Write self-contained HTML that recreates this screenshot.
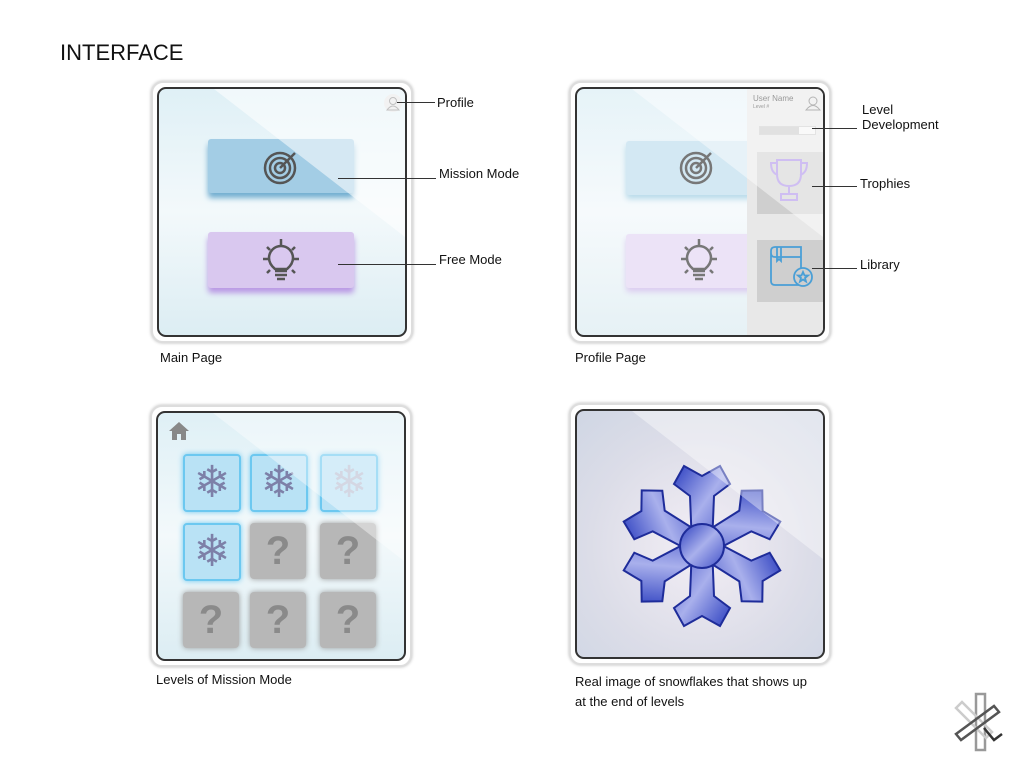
<!DOCTYPE html>
<html><head><meta charset="utf-8"><style>
body{margin:0;width:1024px;height:768px;background:#fff;font-family:"Liberation Sans",sans-serif;position:relative;overflow:hidden}
.a{position:absolute}
.t{position:absolute;font-size:13px;color:#111}
.frame{position:absolute;border:2px solid #ddd;border-radius:12px;background:#fff;box-shadow:0 0 3px #bbb}
.scr{position:absolute;left:4px;top:4px;right:4px;bottom:4px;border:2px solid #333;border-radius:9px;background:linear-gradient(180deg,#dff0f6,#f3f9fb 50%,#dcedf3);overflow:hidden}
.glare{position:absolute;left:0;top:0;width:100%;height:100%;background:rgba(255,255,255,.55);clip-path:polygon(55px 0,100% 0,100% 148px)}
.line{position:absolute;height:1px;background:#333}
.cell{position:absolute;width:56px;height:56px;border-radius:4px}
.q{background:#b7b7b7;box-shadow:0 0 6px #999;color:#8a8a8a;font-size:40px;font-weight:bold;text-align:center;line-height:56px}
.s{background:#b9e2f5;border:2px solid #6cc8f0;box-shadow:0 0 6px #6cc8f0;width:54px;height:54px;color:#7d80a8;font-size:44px;text-align:center;line-height:54px}
</style></head><body>
<div class="t" style="left:60px;top:40px;font-size:22px;">INTERFACE</div>

<!-- Main page -->
<div class="frame" style="left:151px;top:81px;width:258px;height:258px">
<div class="scr">
<div class="a" style="left:49px;top:50px;width:146px;height:54px;background:#a3cde5;border-radius:3px;box-shadow:0 5px 6px #72aed0"></div>
<div class="a" style="left:49px;top:143px;width:146px;height:56px;background:#d9c8ef;border-radius:3px;box-shadow:0 5px 6px #b998e4"></div>
<svg class="a" style="left:104px;top:60px" width="36" height="36"><g fill="none" stroke="#555" stroke-width="2.5"><circle cx="17" cy="19" r="15"/><circle cx="17" cy="19" r="10"/><circle cx="17" cy="19" r="5"/><path d="M17 19L32 4"/></g></svg>
<svg class="a" style="left:100px;top:150px" width="44" height="44"><g fill="none" stroke="#555" stroke-width="2.5"><path d="M16 30q-6-5-6-11a12 12 0 0 1 24 0q0 6-6 11z"/><path d="M16 32h12M16 36h12M18 40h8M22 0v6M4 20h5M35 20h5M8 8l3 3M36 8l-3 3M8 34l3-3M36 34l-3-3"/></g></svg>
<svg class="a" style="left:225px;top:5px" width="18" height="18"><circle cx="9" cy="9" r="9" fill="#e3e3e3"/><g fill="none" stroke="#777"><circle cx="9" cy="7" r="3.5"/><path d="M3 16q6-8 12 0z"/></g></svg>
<div class="glare"></div>
</div></div>
<div class="line" style="left:397px;top:102px;width:38px"></div><div class="t" style="left:437px;top:95px">Profile</div>
<div class="line" style="left:338px;top:178px;width:98px"></div><div class="t" style="left:439px;top:166px">Mission Mode</div>
<div class="line" style="left:338px;top:264px;width:98px"></div><div class="t" style="left:439px;top:252px">Free Mode</div>
<div class="t" style="left:160px;top:350px">Main Page</div>

<!-- Profile page -->
<div class="frame" style="left:569px;top:81px;width:258px;height:258px">
<div class="scr" style="background:linear-gradient(180deg,#e6f3f8,#f6fafc 50%,#e6f1f5)">
<div class="a" style="left:49px;top:52px;width:146px;height:54px;background:#d3e8f3;border-radius:3px;box-shadow:0 4px 6px #b9dbea"></div>
<div class="a" style="left:49px;top:145px;width:146px;height:54px;background:#ece3f7;border-radius:3px;box-shadow:0 4px 6px #dccdf0"></div>
<svg class="a" style="left:102px;top:60px" width="36" height="36"><g fill="none" stroke="#777" stroke-width="2.5"><circle cx="17" cy="19" r="15"/><circle cx="17" cy="19" r="10"/><circle cx="17" cy="19" r="5"/><path d="M17 19L32 4"/></g></svg>
<svg class="a" style="left:100px;top:150px" width="44" height="44"><g fill="none" stroke="#777" stroke-width="2.5"><path d="M16 30q-6-5-6-11a12 12 0 0 1 24 0q0 6-6 11z"/><path d="M16 32h12M16 36h12M18 40h8M22 0v6M4 20h5M35 20h5M8 8l3 3M36 8l-3 3M8 34l3-3M36 34l-3-3"/></g></svg>
<div class="a" style="left:170px;top:0;width:90px;height:260px;background:#e8e8e8"></div>
<div class="a" style="left:176px;top:5px;font-size:8px;color:#444">User Name</div>
<div class="a" style="left:176px;top:15px;font-size:5px;color:#444">Level #</div>
<svg class="a" style="left:228px;top:6px" width="16" height="16"><g fill="none" stroke="#777"><circle cx="8" cy="6" r="4"/><path d="M1 15q7-9 14 0z"/></g></svg>
<div class="a" style="left:182px;top:37px;width:55px;height:7px;background:#f4f4f4;border:1px solid #ccc"></div>
<div class="a" style="left:183px;top:38px;width:39px;height:7px;background:#c8c8c8"></div>
<div class="a" style="left:180px;top:63px;width:66px;height:62px;background:#cfcfcf"></div>
<svg class="a" style="left:190px;top:68px" width="46" height="50"><g fill="none" stroke="#a889e8" stroke-width="2"><path d="M10 3h24v14q0 12-12 12q-12 0-12-12z M10 6h-6q0 10 7 12 M34 6h6q0 10-7 12 M22 29v8 M14 37h16v6h-16z"/></g></svg>
<div class="a" style="left:180px;top:151px;width:66px;height:62px;background:#cfcfcf"></div>
<svg class="a" style="left:190px;top:156px" width="50" height="52"><g fill="none" stroke="#4a9fd6" stroke-width="1.8"><path d="M4 6q0-4 4-4h26v38h-26q-4 0-4-4z M4 8q0 4 4 4h26 M10 2v14l2-2 2 2v-14"/><circle cx="36" cy="32" r="9" fill="#cfcfcf"/><path d="M36 27l1.5 3.5h3.5l-3 2.5 1 3.5-3-2-3 2 1-3.5-3-2.5h3.5z"/></g></svg>
<div class="glare" style="background:rgba(255,255,255,.45)"></div>
</div></div>
<div class="line" style="left:812px;top:128px;width:45px"></div><div class="t" style="left:862px;top:102px">Level<br>Development</div>
<div class="line" style="left:812px;top:186px;width:45px"></div><div class="t" style="left:860px;top:176px">Trophies</div>
<div class="line" style="left:812px;top:268px;width:45px"></div><div class="t" style="left:860px;top:257px">Library</div>
<div class="t" style="left:575px;top:350px">Profile Page</div>

<!-- Levels -->
<div class="frame" style="left:150px;top:405px;width:258px;height:258px">
<div class="scr">
<svg class="a" style="left:10px;top:8px" width="22" height="20"><path d="M11 1L1 10h3v9h5v-6h4v6h5v-9h3z" fill="#888"/></svg>
<div class="cell s" style="left:25px;top:41px">❄</div>
<div class="cell s" style="left:92px;top:41px">❄</div>
<div class="cell s" style="left:162px;top:41px;color:#b8bcd0">❄</div>
<div class="cell s" style="left:25px;top:110px">❄</div>
<div class="cell q" style="left:92px;top:110px">?</div>
<div class="cell q" style="left:162px;top:110px">?</div>
<div class="cell q" style="left:25px;top:179px">?</div>
<div class="cell q" style="left:92px;top:179px">?</div>
<div class="cell q" style="left:162px;top:179px">?</div>
<div class="glare" style="background:rgba(255,255,255,.4)"></div>
</div></div>
<div class="t" style="left:156px;top:672px">Levels of Mission Mode</div>

<!-- Snowflake -->
<div class="frame" style="left:569px;top:403px;width:258px;height:258px">
<div class="scr" style="background:radial-gradient(circle at 50% 55%,#f3eef5,#dcdde8 60%,#cfd6e4)">
<svg class="a" style="left:30px;top:40px" width="190" height="190" viewBox="-95 -95 190 190">
<defs><linearGradient id="g" x1="0" y1="0" x2="1" y2="1"><stop offset="0" stop-color="#2c3fc0"/><stop offset=".5" stop-color="#a9b0ec"/><stop offset="1" stop-color="#4050c8"/></linearGradient></defs>
<g fill="url(#g)" stroke="#1e2c9a" stroke-width="2">
<g id="arm"><path d="M-10 0L-12 -50L-28 -62L-18 -80L0 -70L18 -80L28 -62L12 -50L10 0z"/></g>
<use href="#arm" transform="rotate(60)"/><use href="#arm" transform="rotate(120)"/><use href="#arm" transform="rotate(180)"/><use href="#arm" transform="rotate(240)"/><use href="#arm" transform="rotate(300)"/>
<circle r="22"/></g></svg>
<div class="glare" style="background:rgba(255,255,255,.4)"></div>
</div></div>
<div class="t" style="left:575px;top:672px;line-height:20px">Real image of snowflakes that shows up<br>at the end of levels</div>

<!-- logo -->
<svg class="a" style="left:950px;top:690px" width="64" height="64"><g fill="none" stroke-width="2.5">
<rect x="26" y="4" width="9" height="56" stroke="#999"/>
<path d="M6 18l6-6 30 30-6 6z" stroke="#ccc"/>
<path d="M6 44l38-28 5 6-38 28z" stroke="#555"/>
<path d="M34 38l10 12 8-6" stroke="#333"/></g></svg>
</body></html>
